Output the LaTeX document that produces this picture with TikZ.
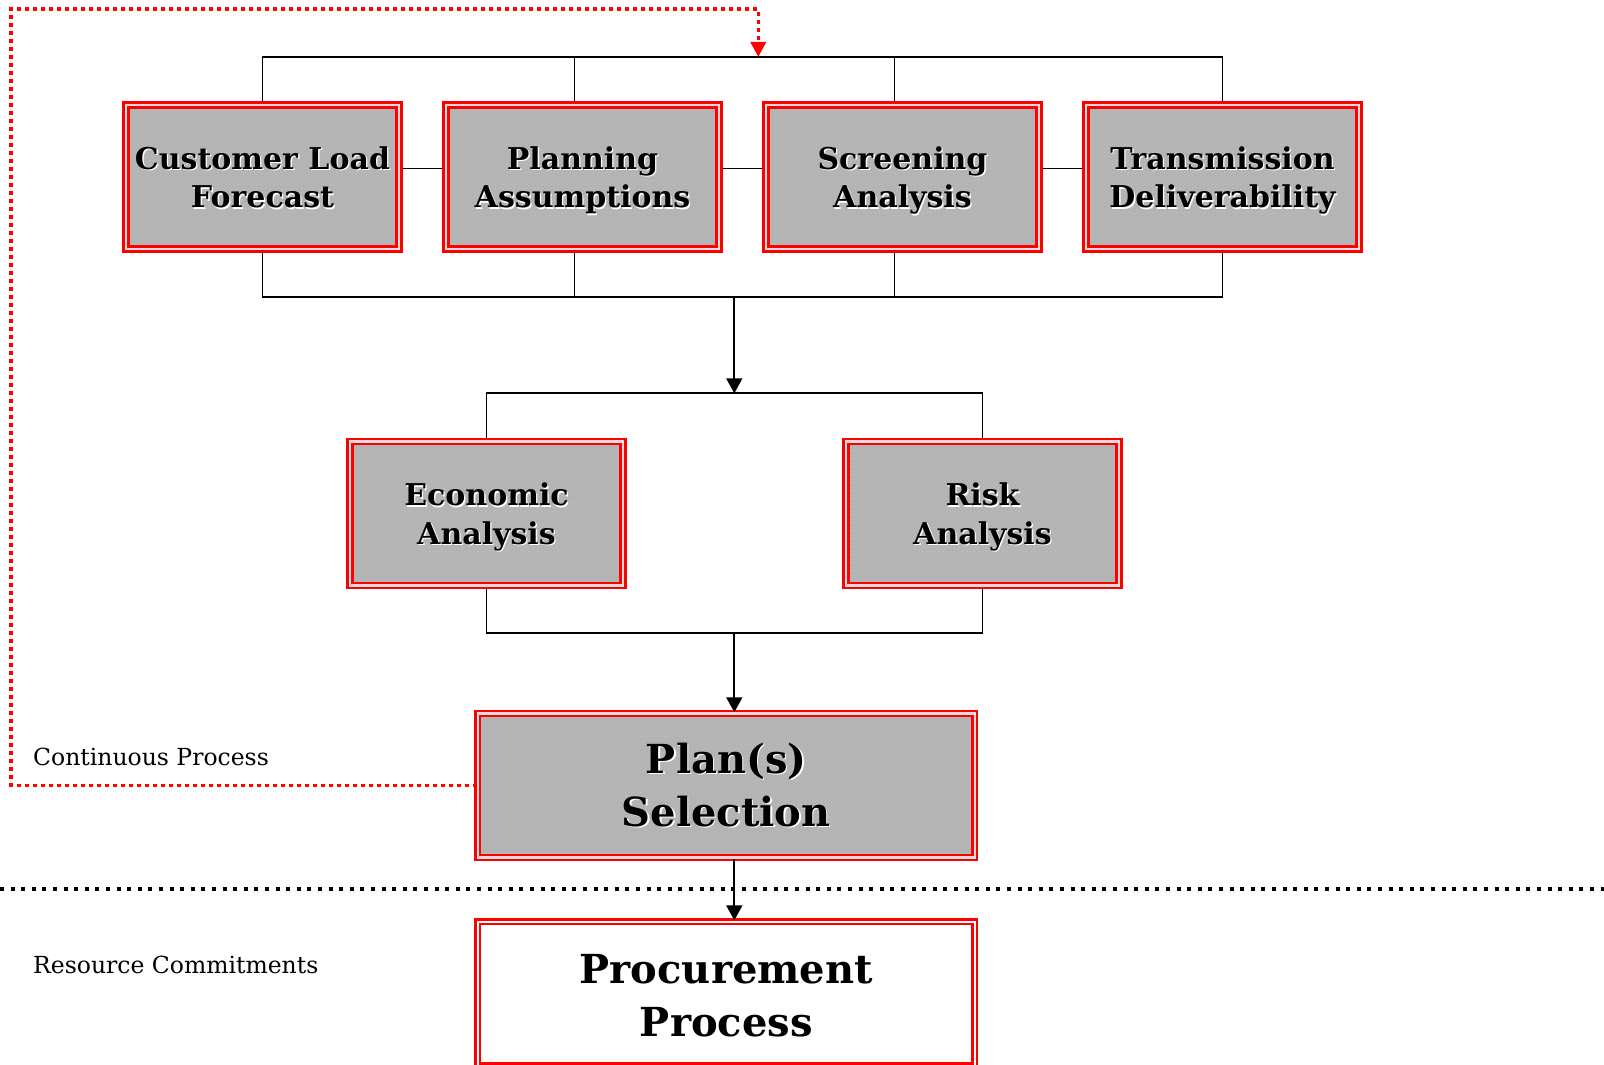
\documentclass[tikz,border=0pt]{standalone}
\usepackage{fontspec}
\setmainfont{DejaVu Serif}
\usetikzlibrary{arrows.meta,patterns.meta,calc}
\definecolor{boxgray}{RGB}{178,178,178}
\definecolor{gapgray}{RGB}{222,222,222}
\definecolor{dotwhite}{RGB}{232,232,232}
\definecolor{loopred}{RGB}{255,0,0}
\pgfdeclarelayer{bg}
\pgfsetlayers{bg,main}
\tikzdeclarepattern{
  name=wdots,
  type=uncolored,
  bounding box={(0pt,0pt) and (4.4pt,4.4pt)},
  tile size={(4.4pt,4.4pt)},
  code={\fill (1.1pt,1.1pt) circle (0.5pt); \fill (3.3pt,3.3pt) circle (0.5pt);}
}
\newcommand{\shad}[1]{\leavevmode\rlap{\hspace{1.3pt}\raisebox{-1.3pt}{\color{white}#1}}#1}
\newcommand{\twoline}[3]{\raisebox{-#1}[\height][\depth]{\begin{tabular}{@{}c@{}}\shad{#2}\\\shad{#3}\end{tabular}}}
\begin{document}
\begin{tikzpicture}[x=1pt,y=-1pt,
  boxst/.style={draw=red, line width=2.5pt, double=gapgray, double distance=2.1pt,
    preaction={fill=boxgray}, pattern=wdots, pattern color=dotwhite,
    minimum width=273pt, minimum height=144pt, inner sep=0pt, align=center,
    font=\bfseries\fontsize{30}{38.5}\selectfont},
  bigst/.style={boxst, minimum width=497pt, minimum height=144pt,
    font=\bfseries\fontsize{40}{53}\selectfont},
  procst/.style={draw=red, line width=2.5pt, double=white, double distance=2.1pt,
    fill=white, minimum width=497pt, minimum height=144pt, inner sep=0pt, align=center,
    font=\bfseries\fontsize{40}{53}\selectfont},
  conn/.style={draw=black, line width=1.8pt},
  arr/.style={conn, -{Triangle[width=16pt,length=15pt]}},
  reddot/.style={draw=loopred, line width=3.6pt, dash pattern=on 3.6pt off 4.4pt,
    -{Triangle[width=15pt,length=15pt]}},
  blackdot/.style={draw=black, line width=4pt, dash pattern=on 4pt off 6.6pt},
  lbl/.style={anchor=base west, inner sep=0pt, font=\fontsize{23.5}{28}\selectfont}
]
\useasboundingbox (0,0) rectangle (1604,1065);
\clip (0,0) rectangle (1604,1065);

% boxes
\node[boxst] (clf) at (262.5,177) {\twoline{4pt}{Customer Load}{Forecast}};
\node[boxst] (pa)  at (582.5,177) {\twoline{4pt}{Planning}{Assumptions}};
\node[boxst] (sa)  at (902.5,177) {\twoline{4pt}{Screening}{Analysis}};
\node[boxst] (td)  at (1222.5,177) {\twoline{4pt}{Transmission}{Deliverability}};
\node[boxst] (ea)  at (486.5,513.5) {\twoline{4pt}{Economic}{Analysis}};
\node[boxst] (ra)  at (982.5,513.5) {\twoline{4pt}{Risk}{Analysis}};
\node[bigst] (ps)  at (726.3,785.5) {\twoline{4pt}{Plan(s)}{Selection}};
\node[procst] (pp) at (726.3,993.6) {\twoline{6pt}{Procurement}{Process}};

\node[lbl] (cp) at (33,765) {Continuous Process};
\node[lbl] (rc) at (33,973) {Resource Commitments};

% bus coordinates
\coordinate (topbus) at (735,57);
\coordinate (botbus) at (734.3,297);
\coordinate (midbus) at (734.3,393.3);
\coordinate (lowbus) at (734.3,633.3);
\coordinate (loopL) at (11,9.3);
\coordinate (loopR) at (758.3,9.3);
\coordinate (sepL) at (0,889.3);
\coordinate (sepR) at (1604,889.3);

\begin{pgfonlayer}{bg}
  % top bus
  \draw[conn] (clf.center) -- (clf.center |- topbus) -- (td.center |- topbus) -- (td.center);
  \draw[conn] ([xshift=-8pt]pa.center) -- ([xshift=-8pt]pa.center |- topbus);
  \draw[conn] ([xshift=-8pt]sa.center) -- ([xshift=-8pt]sa.center |- topbus);
  % side links
  \draw[conn] ([yshift=8.5pt]clf.center) -- ([yshift=8.5pt]td.center);
  % bottom bus
  \draw[conn] (clf.center) -- (clf.center |- botbus) -- (td.center |- botbus) -- (td.center);
  \draw[conn] ([xshift=-8pt]pa.center) -- ([xshift=-8pt]pa.center |- botbus);
  \draw[conn] ([xshift=-8pt]sa.center) -- ([xshift=-8pt]sa.center |- botbus);
  % middle buses
  \draw[conn] (ea.center) -- (ea.center |- midbus) -- (ra.center |- midbus) -- (ra.center);
  \draw[conn] (ea.center) -- (ea.center |- lowbus) -- (ra.center |- lowbus) -- (ra.center);
\end{pgfonlayer}

\draw[arr] (botbus) -- (midbus);
\draw[arr] (lowbus) -- (lowbus |- ps.north);
\draw[arr] (lowbus |- ps.south) -- (lowbus |- pp.north);

% separator
\draw[blackdot] (sepL) -- (sepR);

% continuous loop
\draw[reddot] (ps.west) -| (loopL) -- (loopR) -- (loopR |- topbus);
\end{tikzpicture}
\end{document}
